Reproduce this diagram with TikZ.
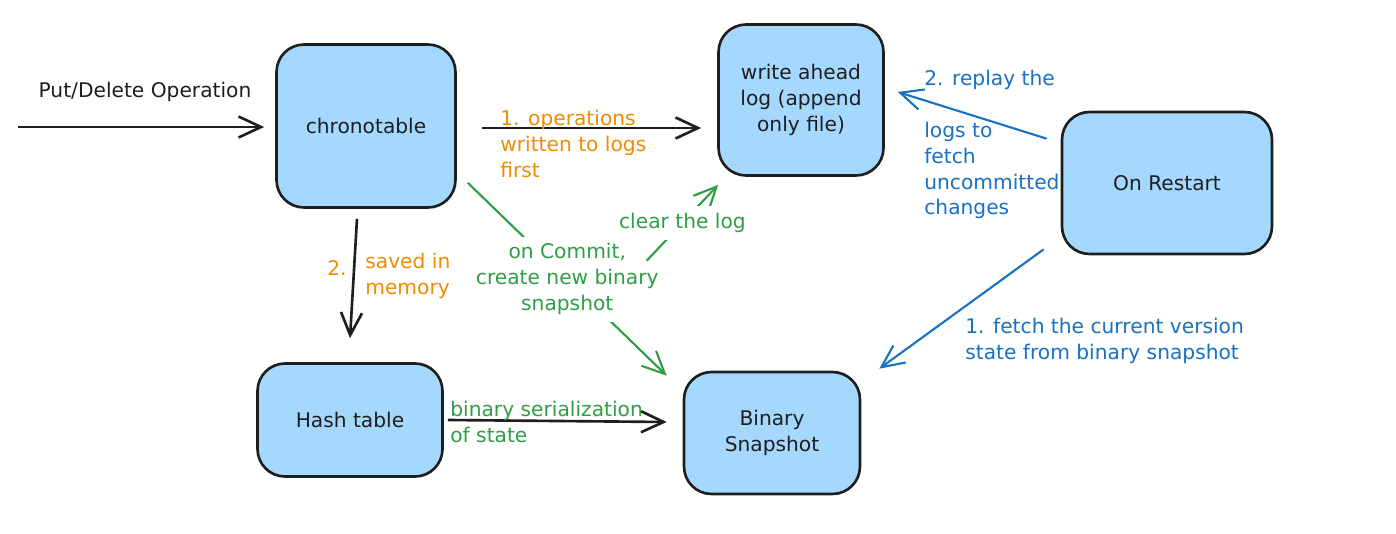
\documentclass[tikz,border=0pt]{standalone}
\usepackage{fontspec}
\setmainfont{DejaVu Sans}
\usetikzlibrary{arrows.meta}
\definecolor{boxfill}{HTML}{A5D8FF}
\definecolor{ink}{HTML}{1E1E1E}
\definecolor{exorange}{HTML}{F08C00}
\definecolor{exgreen}{HTML}{2F9E44}
\definecolor{exblue}{HTML}{1971C2}
\newcommand\lblfont{\fontsize{11.5}{14.7}\selectfont}
\begin{document}
\begin{tikzpicture}[x=0.02cm,y=-0.02cm,
  box/.style={draw=ink, fill=boxfill, line width=1.5pt, rounded corners=0.55cm, align=center, font=\lblfont, text=ink, inner sep=0pt},
  conn/.style={line width=1.5pt, draw=ink, -{Straight Barb[length=0.45cm,width=0.42cm]}},
  bconn/.style={conn, draw=exblue, line width=1.2pt},
  gconn/.style={conn, draw=exgreen, line width=1.2pt},
  lbl/.style={font=\lblfont, align=left, inner sep=0pt, anchor=north west},
  mid/.style={font=\lblfont, align=center, fill=white, inner sep=4pt, text=exgreen},
]
\useasboundingbox (0,0) rectangle (1396,534);
\fill[white] (0,0) rectangle (1396,534);

% nodes
\node[box, minimum width=3.58cm, minimum height=3.26cm] (chrono) at (366,126) {chronotable};
\node[box, minimum width=3.3cm, minimum height=3.02cm] (wal) at (801,100) {write ahead\\log (append\\only file)};
\node[box, minimum width=4.2cm, minimum height=2.84cm] (restart) at (1167,183) {On Restart};
\node[box, minimum width=3.7cm, minimum height=2.26cm] (hash) at (350,420) {Hash table};
\node[box, minimum width=3.52cm, minimum height=2.44cm] (snap) at (772,433) {Binary\\Snapshot};

% input arrow
\coordinate (in) at (18,127);
\draw[conn] (in) -- ([shift={(-11,1)}]chrono.west);
\node[font=\lblfont, text=ink, inner sep=0pt] (putlbl) at (145,92) {Put/Delete Operation};

% chronotable -> WAL
\draw[conn] ([shift={(25,2)}]chrono.east) -- ([shift={(-16,28)}]wal.west);
\node[lbl, text=exorange] (oplbl) at (500,110) {1. operations\\written to logs\\first};

% chronotable -> hash table
\draw[conn] ([shift={(-9,10)}]chrono.south) -- ([shift={(0,-24)}]hash.north);
\node[font=\lblfont, text=exorange, inner sep=0pt] (twolbl) at (337,268) {2.};
\node[lbl, text=exorange] (memlbl) at (365,253) {saved in\\memory};

% hash table -> snapshot
\draw[conn] ([shift={(4,0)}]hash.east) -- ([shift={(-16,-11)}]snap.west);
\node[lbl, text=exgreen] (serlbl) at (450,401) {binary serialization\\of state};

% commit arrow
\draw[gconn] ([shift={(11,-26)}]chrono.south east) -- node[mid] (commitlbl) {on Commit,\\create new binary\\snapshot} ([shift={(-16,5)}]snap.north west);

% clear the log
\draw[gconn] ([shift={(-36,-110)}]snap.north west) -- node[mid] (clearlbl) {clear the log} ([shift={(1,8)}]wal.south west);

% restart -> WAL
\draw[bconn] ([shift={(-14,28)}]restart.north west) -- ([shift={(13,-8)}]wal.east);
\node[lbl, text=exblue] (replaylbl) at (924,70) {2. replay the\\[14.7pt]logs to\\fetch\\uncommitted\\changes};

% restart -> snapshot
\draw[bconn] ([shift={(-17,-6)}]restart.south west) -- ([shift={(18,-2)}]snap.north east);
\node[lbl, text=exblue] (fetchlbl) at (965,318) {1. fetch the current version\\state from binary snapshot};
\end{tikzpicture}
\end{document}
